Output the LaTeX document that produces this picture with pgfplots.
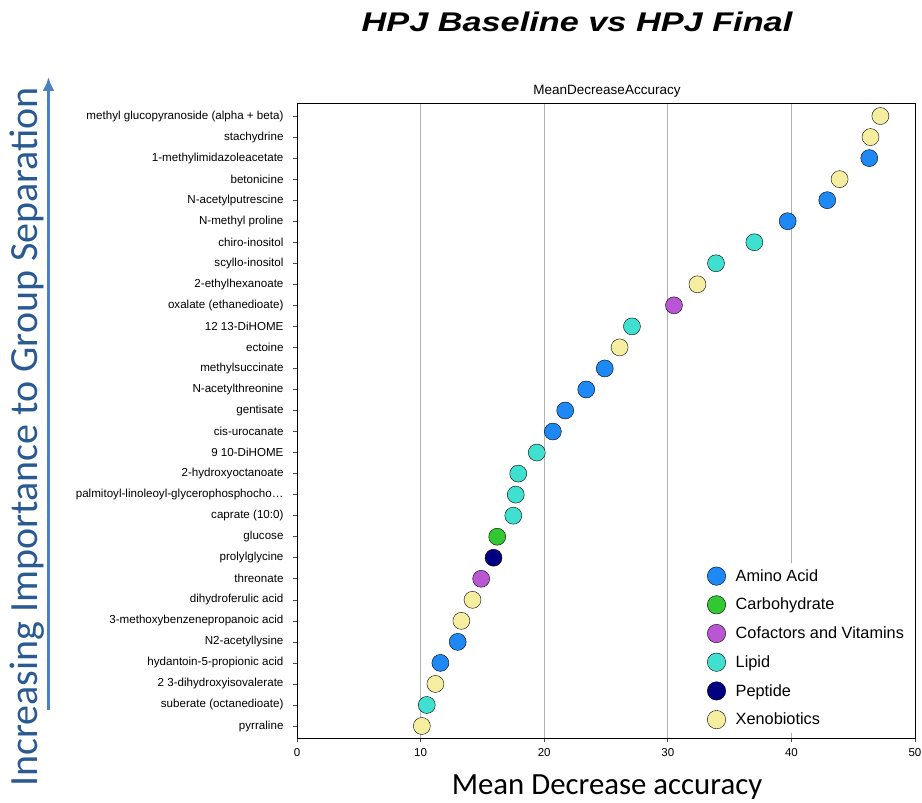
\documentclass[border=0pt]{standalone}
\usepackage{fontspec}
\setmainfont{Liberation Sans}
\newfontfamily\calibri{Carlito}
\usepackage{pgfplots}
\pgfplotsset{compat=1.18}
\usetikzlibrary{arrows.meta}

\definecolor{aminoC}{HTML}{1E88F5}
\definecolor{carbC}{HTML}{32C832}
\definecolor{cofC}{HTML}{BA55D3}
\definecolor{lipidC}{HTML}{40E0D0}
\definecolor{pepC}{HTML}{000080}
\definecolor{xenoC}{HTML}{F5EEA0}
\definecolor{sideText}{HTML}{2A5A92}
\definecolor{sideArrow}{HTML}{4F81BD}

\begin{document}
\begin{tikzpicture}[x=1pt,y=1pt]
\useasboundingbox (0,0) rectangle (922,803);

% chart titles and outer labels
\node[font=\fontsize{27}{31}\selectfont\bfseries\itshape, xscale=1.27] at (577,781) {HPJ Baseline vs HPJ Final};
\node[font=\fontsize{13.5}{15}\selectfont] at (607,712) {MeanDecreaseAccuracy};
\node[font=\calibri\fontsize{30.8}{35}\selectfont] at (607,16) {Mean Decrease accuracy};
\draw[sideArrow, line width=3.5pt, -{Latex[length=14pt,width=12pt]}] (48.5,93) -- (48.5,726);
\node[font=\calibri\fontsize{40}{44}\selectfont, text=sideText, rotate=90, anchor=base] at (37,366) {Increasing Importance to Group Separation};

\begin{axis}[
  at={(297pt,65pt)}, anchor=south west,
  scale only axis, width=618pt, height=635pt,
  xmin=0, xmax=50, ymin=-0.57, ymax=29.62,
  xtick={0,10,...,50}, ytick={0,...,29},
  xtick pos=bottom, ytick pos=left,
  yticklabels={pyrraline, suberate (octanedioate), 2 3-dihydroxyisovalerate,
    hydantoin-5-propionic acid, N2-acetyllysine, 3-methoxybenzenepropanoic acid,
    dihydroferulic acid, threonate, prolylglycine, glucose, caprate (10:0),
    {palmitoyl-linoleoyl-glycerophosphocho\ldots}, 2-hydroxyoctanoate, 9 10-DiHOME,
    cis-urocanate, gentisate, N-acetylthreonine, methylsuccinate, ectoine,
    12 13-DiHOME, oxalate (ethanedioate), 2-ethylhexanoate, scyllo-inositol,
    chiro-inositol, N-methyl proline, N-acetylputrescine, betonicine,
    1-methylimidazoleacetate, stachydrine, methyl glucopyranoside (alpha + beta)},
  xmajorgrids, major x grid style={black!30, line width=0.8pt},
  tick align=outside, major tick length=4pt,
  tick style={black!70, line width=0.6pt},
  axis line style={line width=0.9pt},
  yticklabel style={font=\fontsize{11.6}{13}\selectfont, xshift=-6pt},
  xticklabel style={font=\fontsize{11.5}{13}\selectfont, yshift=-3pt},
  /pgf/number format/assume math mode=true,
  legend style={at={(0.662,0.276)}, anchor=north west, draw=none, fill=white,
    font=\fontsize{16.3}{18.5}\selectfont, row sep=10.3pt, column sep=8pt,
    inner xsep=1pt, inner ysep=4pt},
  legend cell align=left,
  legend image code/.code={\draw[#1, mark size=9.2pt] plot coordinates {(0.3cm,0cm)};},
  every axis plot/.append style={only marks, mark=*, mark size=8.5pt,
    mark options={yscale=1.12, draw=black, line width=0.7pt}},
]
\addplot[mark options={fill=aminoC}] coordinates {
  (46.3,27) (42.9,25) (39.7,24) (24.9,17) (23.4,16) (21.7,15) (20.7,14) (13.0,4) (11.6,3)};
\addlegendentry{Amino Acid}
\addplot[mark options={fill=carbC}] coordinates {(16.2,9)};
\addlegendentry{Carbohydrate}
\addplot[mark options={fill=cofC}] coordinates {(30.5,20) (14.9,7)};
\addlegendentry{Cofactors and Vitamins}
\addplot[mark options={fill=lipidC}] coordinates {
  (37.0,23) (33.9,22) (27.1,19) (19.4,13) (17.9,12) (17.7,11) (17.5,10) (10.5,1)};
\addlegendentry{Lipid}
\addplot[mark options={fill=pepC}] coordinates {(15.9,8)};
\addlegendentry{Peptide}
\addplot[mark options={fill=xenoC}] coordinates {
  (47.2,29) (46.4,28) (43.9,26) (32.4,21) (26.1,18) (14.2,6) (13.3,5) (11.2,2) (10.1,0)};
\addlegendentry{Xenobiotics}
\end{axis}
\end{tikzpicture}
\end{document}
